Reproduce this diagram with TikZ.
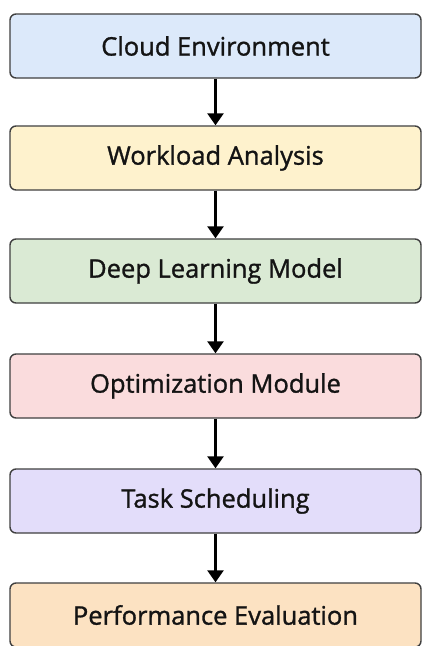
\documentclass[tikz,border=0pt]{standalone}
\usepackage{fontspec}
\setmainfont{Open Sans}
\newfontfamily\stagefont[FakeBold=1.2]{Open Sans}
\usetikzlibrary{arrows.meta}
\definecolor{cloudblue}{HTML}{DCE9FA}
\definecolor{workyellow}{HTML}{FEF2CD}
\definecolor{deepgreen}{HTML}{DAEAD4}
\definecolor{optpink}{HTML}{FADCDD}
\definecolor{taskpurple}{HTML}{E3DDFA}
\definecolor{perforange}{HTML}{FCE2C2}
\tikzset{
	stage/.style={draw=black!75, line width=1.4pt, rounded corners=6pt, rectangle,
		minimum width=411pt, minimum height=64pt, font=\stagefont\fontsize{25.5}{29}\selectfont, text=black!92},
	flow/.style={-{Triangle[width=16pt,length=12pt]}, line width=2.6pt, black}
}

\begin{document}
\begin{tikzpicture}[x=1pt,y=1pt]
	\useasboundingbox (0,0) rectangle (422,-646);
	\fill[white] (0,0) rectangle (422,-646);

	\node[stage, fill=cloudblue] (s_0) at (215.5,-46) {Cloud Environment};
	\node[stage, fill=workyellow] (s_1) at (215.5,-158) {Workload Analysis};
	\node[stage, fill=deepgreen] (s_2) at (215.5,-271) {Deep Learning Model};
	\node[stage, fill=optpink] (s_3) at (215.5,-386) {Optimization Module};
	\node[stage, fill=taskpurple] (s_4) at (215.5,-501) {Task Scheduling};
	\node[stage, fill=perforange] (s_5) at (215.5,-615) {Performance Evaluation};

	\draw[flow] (s_0) -- (s_1);
	\draw[flow] (s_1) -- (s_2);
	\draw[flow] (s_2) -- (s_3);
	\draw[flow] (s_3) -- (s_4);
	\draw[flow] (s_4) -- (s_5);

\end{tikzpicture}
\end{document}
